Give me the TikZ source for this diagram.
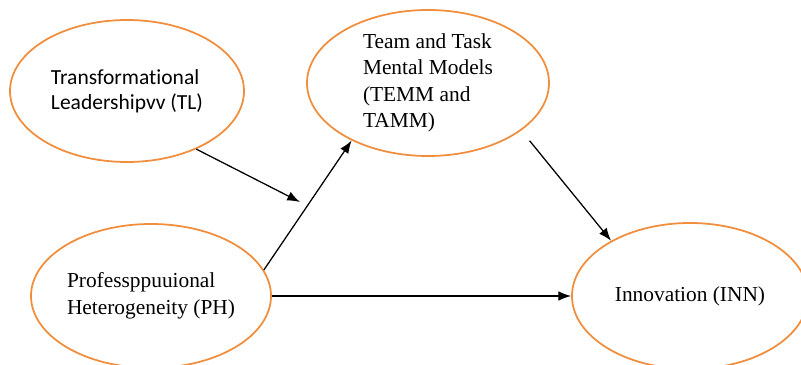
\documentclass[tikz,border=0pt]{standalone}
\usepackage{fontspec}
\setmainfont{Liberation Serif}
\newfontfamily\calibri[Ligatures=NoCommon]{Carlito}
\usetikzlibrary{shapes.geometric,arrows.meta}
\definecolor{naranja}{RGB}{240,142,62}
\tikzset{
    elipse/.style={ellipse, draw=naranja, line width=1.25pt, inner sep=0pt, align=left,
        font=\fontsize{15.2}{18.8}\selectfont},
    flecha/.style={line width=0.9pt, -{Latex[length=0.32cm,width=0.24cm]}}
}
\begin{document}
\begin{tikzpicture}
    \useasboundingbox (0,0) rectangle (20.025,9.125);
    % Variables
    \node[elipse, minimum width=5.85cm, minimum height=3.55cm, font=\calibri\fontsize{15.3}{17.9}\selectfont]
        (tl) at (3.175,6.85) {Transformational\\Leadershipvv (TL)};
    \node[elipse, minimum width=6.05cm, minimum height=3.65cm]
        (temm) at (10.7,7.05) {Team and Task\\Mental Models\\(TEMM and\\TAMM)};
    \node[elipse, minimum width=6.0cm, minimum height=3.6cm]
        (ph) at (3.775,1.725) {Professppuuional\\Heterogeneity (PH)};
    \node[elipse, minimum width=5.9cm, minimum height=3.65cm]
        (inn) at (17.25,1.725) {Innovation (INN)};
    \coordinate (mod) at (7.5,4.075);
    % Relaciones
    \draw[flecha] (tl.-40) -- (mod);
    \draw[flecha] (ph.13.5) -- (temm.-143);
    \draw[flecha, shorten <=0.33cm] (temm.-27.5) -- (inn.145);
    \draw[flecha] (ph.east) -- (inn.west);
\end{tikzpicture}
\end{document}
